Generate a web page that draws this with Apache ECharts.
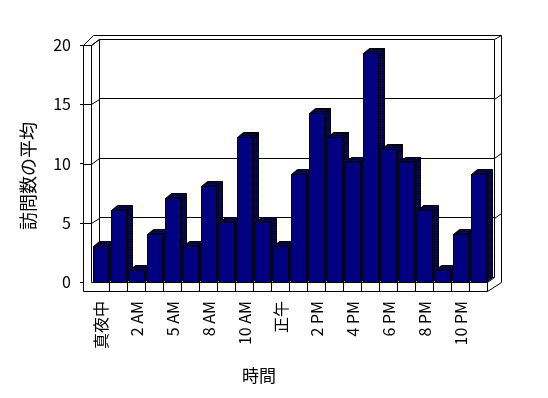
<!DOCTYPE html>
<html lang="ja">
<head>
<meta charset="utf-8">
<title>時間別 訪問数の平均</title>
<script src="https://cdn.jsdelivr.net/npm/echarts@6/dist/echarts.min.js"></script>
<style>
  html, body { margin: 0; padding: 0; background: #fff; }
  #main { width: 548px; height: 398px; }
</style>
</head>
<body>
<div id="main"></div>
<script type="text/javascript">
    // データ
    var hours = ['真夜中', '1 AM', '2 AM', '3 AM', '5 AM', '6 AM', '8 AM', '9 AM', '10 AM', '11 AM', '正午',
                 '1 PM', '2 PM', '3 PM', '4 PM', '5 PM', '6 PM', '7 PM', '8 PM', '9 PM', '10 PM', '11 PM'];
    var visits = [3, 6, 1, 4, 7, 3, 8, 5, 12, 5, 3, 9, 14, 12, 10, 19, 11, 10, 6, 1, 4, 9];
    var yMin = 0, yMax = 20, yStep = 5;
    var yTitle = '訪問数の平均';
    var xTitle = '時間';

    var FONT = '"Noto Sans CJK JP", "Noto Sans", sans-serif';

    // 3D風の奥行き
    var dx = 6, dy = -5;

    // 網掛け (紺と黒の市松)
    var dither = document.createElement('canvas');
    dither.width = 2; dither.height = 2;
    var g = dither.getContext('2d');
    g.fillStyle = '#000'; g.fillRect(0, 0, 2, 2);
    g.fillStyle = '#000080'; g.fillRect(0, 0, 1, 1); g.fillRect(1, 1, 1, 1);
    var darkFill = { image: dither, repeat: 'repeat' };

    function renderBar(params, api) {
        var top = api.coord([api.value(0), api.value(1)]);
        var base = api.coord([api.value(0), 0]);
        var xl = Math.round(top[0] - 8) + 0.5;
        var xr = xl + 15;
        var yt = Math.round(top[1]) + 0.5;
        var yb = Math.round(base[1]) + 0.5;
        var edge = { stroke: '#000', lineWidth: 1 };
        return {
            type: 'group',
            children: [
                { type: 'polygon', shape: { points: [[xr, yt], [xr + dx, yt + dy], [xr + dx, yb + dy], [xr, yb]] },
                  style: Object.assign({ fill: darkFill }, edge) },
                { type: 'polygon', shape: { points: [[xl, yt], [xl + dx, yt + dy], [xr + dx, yt + dy], [xr, yt]] },
                  style: Object.assign({ fill: darkFill }, edge) },
                { type: 'rect', shape: { x: xl, y: yt, width: xr - xl, height: yb - yt },
                  style: Object.assign({ fill: '#000080' }, edge) }
            ]
        };
    }

    var myChart = echarts.init(document.getElementById('main'));

    myChart.setOption({
        backgroundColor: '#fff',
        animation: false,
        grid: [
            { left: 83, top: 45, width: 405, height: 237 },   // 手前の軸 (目盛りラベル)
            { left: 99, top: 39, width: 395, height: 238 },   // 奥の壁
            { left: 92, top: 41, width: 396, height: 241 }    // 棒
        ],
        xAxis: [
            { gridIndex: 0, type: 'value', show: false },
            { gridIndex: 1, type: 'category', data: hours, show: false },
            {
                gridIndex: 2, type: 'category', data: hours,
                axisLine: { show: false }, axisTick: { show: false },
                axisLabel: { rotate: 90, interval: 1, margin: 19, color: '#000', fontSize: 16, fontFamily: FONT }
            }
        ],
        yAxis: [
            {
                gridIndex: 0, min: yMin, max: yMax, interval: yStep,
                axisLine: { show: false },
                axisTick: { show: true, length: 3, lineStyle: { color: '#000' } },
                splitLine: { show: false },
                axisLabel: { margin: 12, color: '#000', fontSize: 16, fontFamily: FONT }
            },
            {
                gridIndex: 1, min: yMin, max: yMax, interval: yStep,
                axisLine: { show: false }, axisTick: { show: false }, axisLabel: { show: false },
                splitLine: { show: true, lineStyle: { color: '#000', width: 1 } }
            },
            { gridIndex: 2, min: yMin, max: yMax, show: false }
        ],
        series: [{
            type: 'custom',
            xAxisIndex: 2,
            yAxisIndex: 2,
            z: 5,
            renderItem: renderBar,
            data: visits.map(function (v, i) { return [i, v]; })
        }]
    });

    // 壁と床の枠線
    var FL = 83.5, IL = 91.5, FT = 45.5, FY = 282.5, FB = 291.5, FR = 487.5;
    var BL = 99.5, BT = 39.5, BR = 494.5, BB = 277.5, OR = 501.5, OT = 35.5;
    var line = { stroke: '#000', lineWidth: 1, fill: null };
    var els = [];

    els.push({ type: 'polygon', z: 1, shape: { points: [[FL, FB], [FL, FT], [FL + 10, OT], [OR, OT], [OR, FY], [FR, FB]] }, style: line });
    els.push({ type: 'polygon', z: 1, shape: { points: [[IL, FY], [IL, FT], [BL, BT], [BR, BT], [BR, BB], [FR, FY]] }, style: line });
    els.push({ type: 'polyline', z: 1, shape: { points: [[BL, BT], [BL, BB]] }, style: line });
    els.push({ type: 'polyline', z: 1, shape: { points: [[FR, FY], [FR, FB]] }, style: line });

    for (var v = yMin + yStep; v <= yMax; v += yStep) {
        var yF = Math.round(myChart.convertToPixel({ yAxisIndex: 0 }, v)) + 0.5;
        var yB = Math.round(myChart.convertToPixel({ yAxisIndex: 1 }, v)) + 0.5;
        els.push({ type: 'polyline', z: 1, shape: { points: [[FL, yF], [IL, yF], [BL, yB]] }, style: line });
        els.push({ type: 'polyline', z: 1, shape: { points: [[BR, yB], [OR, Math.max(yB - 5, OT)]] }, style: line });
    }

    // 床の区切り
    for (var i = 1; i < hours.length; i++) {
        var x = Math.round(myChart.convertToPixel({ xAxisIndex: 2 }, i) - 9) - 0.5;
        els.push({ type: 'polyline', z: 1, shape: { points: [[x, FY], [x, FB]] }, style: line });
    }

    els.push({ type: 'text', x: 28, y: 176, rotation: Math.PI / 2,
        style: { text: yTitle, fill: '#000', fontSize: 18, fontFamily: FONT, align: 'center', verticalAlign: 'middle' } });
    els.push({ type: 'text', x: 259, y: 376,
        style: { text: xTitle, fill: '#000', fontSize: 17, fontFamily: FONT, align: 'center', verticalAlign: 'middle' } });

    myChart.setOption({ graphic: { elements: els } });
</script>
</body>
</html>
